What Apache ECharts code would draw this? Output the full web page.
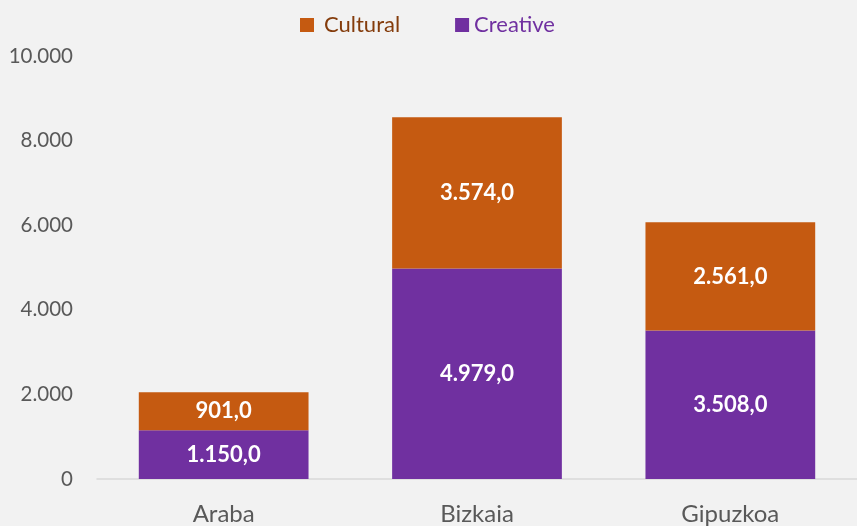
<!DOCTYPE html>
<html><head><meta charset="utf-8">
<script src="https://cdn.jsdelivr.net/npm/echarts@6/dist/echarts.min.js"></script>
<style>html,body{margin:0;padding:0;background:#F2F2F2;}#c{width:857px;height:526px;}</style>
</head><body><div id="c"></div>
<script>
var categories = ["Araba", "Bizkaia", "Gipuzkoa"];
var creative = [1150.0, 4979.0, 3508.0];
var cultural = [901.0, 3574.0, 2561.0];
var yTicks = [0, 2000, 4000, 6000, 8000, 10000];

function fmtNum(v, dec) {
  var s = v.toFixed(dec);
  var parts = s.split(".");
  var intp = parts[0].replace(/\B(?=(\d{3})+(?!\d))/g, ".");
  return dec ? intp + "," + parts[1] : intp;
}
var font = "Lato, 'Open Sans', sans-serif";
var chart = echarts.init(document.getElementById("c"));
chart.setOption({
  backgroundColor: "#F2F2F2",
  animation: false,
  textStyle: {fontFamily: font},
  legend: {
    top: 9, left: 295, itemGap: 55, itemWidth: 14, itemHeight: 14, icon: "rect",
    data: [
      {name: "Cultural", textStyle: {color: "#843C0C", padding: [0, 0, 0, 5]}},
      {name: "Creative", textStyle: {color: "#7030A0"}}
    ],
    textStyle: {fontSize: 22, fontFamily: font}
  },
  grid: {left: 97, right: -4, top: 56, bottom: 44, containLabel: false},
  xAxis: {
    type: "category", data: categories,
    axisLine: {lineStyle: {color: "#D9D9D9", width: 1.5}},
    axisTick: {show: false},
    axisLabel: {color: "#595959", fontSize: 24, margin: 23, fontFamily: font}
  },
  yAxis: {
    type: "value", min: yTicks[0], max: yTicks[yTicks.length - 1], interval: 2000,
    splitLine: {show: false}, axisLine: {show: false}, axisTick: {show: false},
    axisLabel: {color: "#595959", fontSize: 20.5, margin: 24, fontFamily: font,
      formatter: function (v) { return fmtNum(v, 0); }}
  },
  series: [
    {name: "Creative", type: "bar", stack: "s", data: creative, barWidth: "67%",
      itemStyle: {color: "#7030A0"},
      label: {show: true, position: "inside", color: "#fff", fontWeight: "bold", fontSize: 22, fontFamily: font,
        formatter: function (p) { return fmtNum(p.value, 1); }}},
    {name: "Cultural", type: "bar", stack: "s", data: cultural, barWidth: "67%",
      itemStyle: {color: "#C55A11"},
      label: {show: true, position: "inside", color: "#fff", fontWeight: "bold", fontSize: 22, fontFamily: font,
        formatter: function (p) { return fmtNum(p.value, 1); }}}
  ]
});
</script></body></html>
